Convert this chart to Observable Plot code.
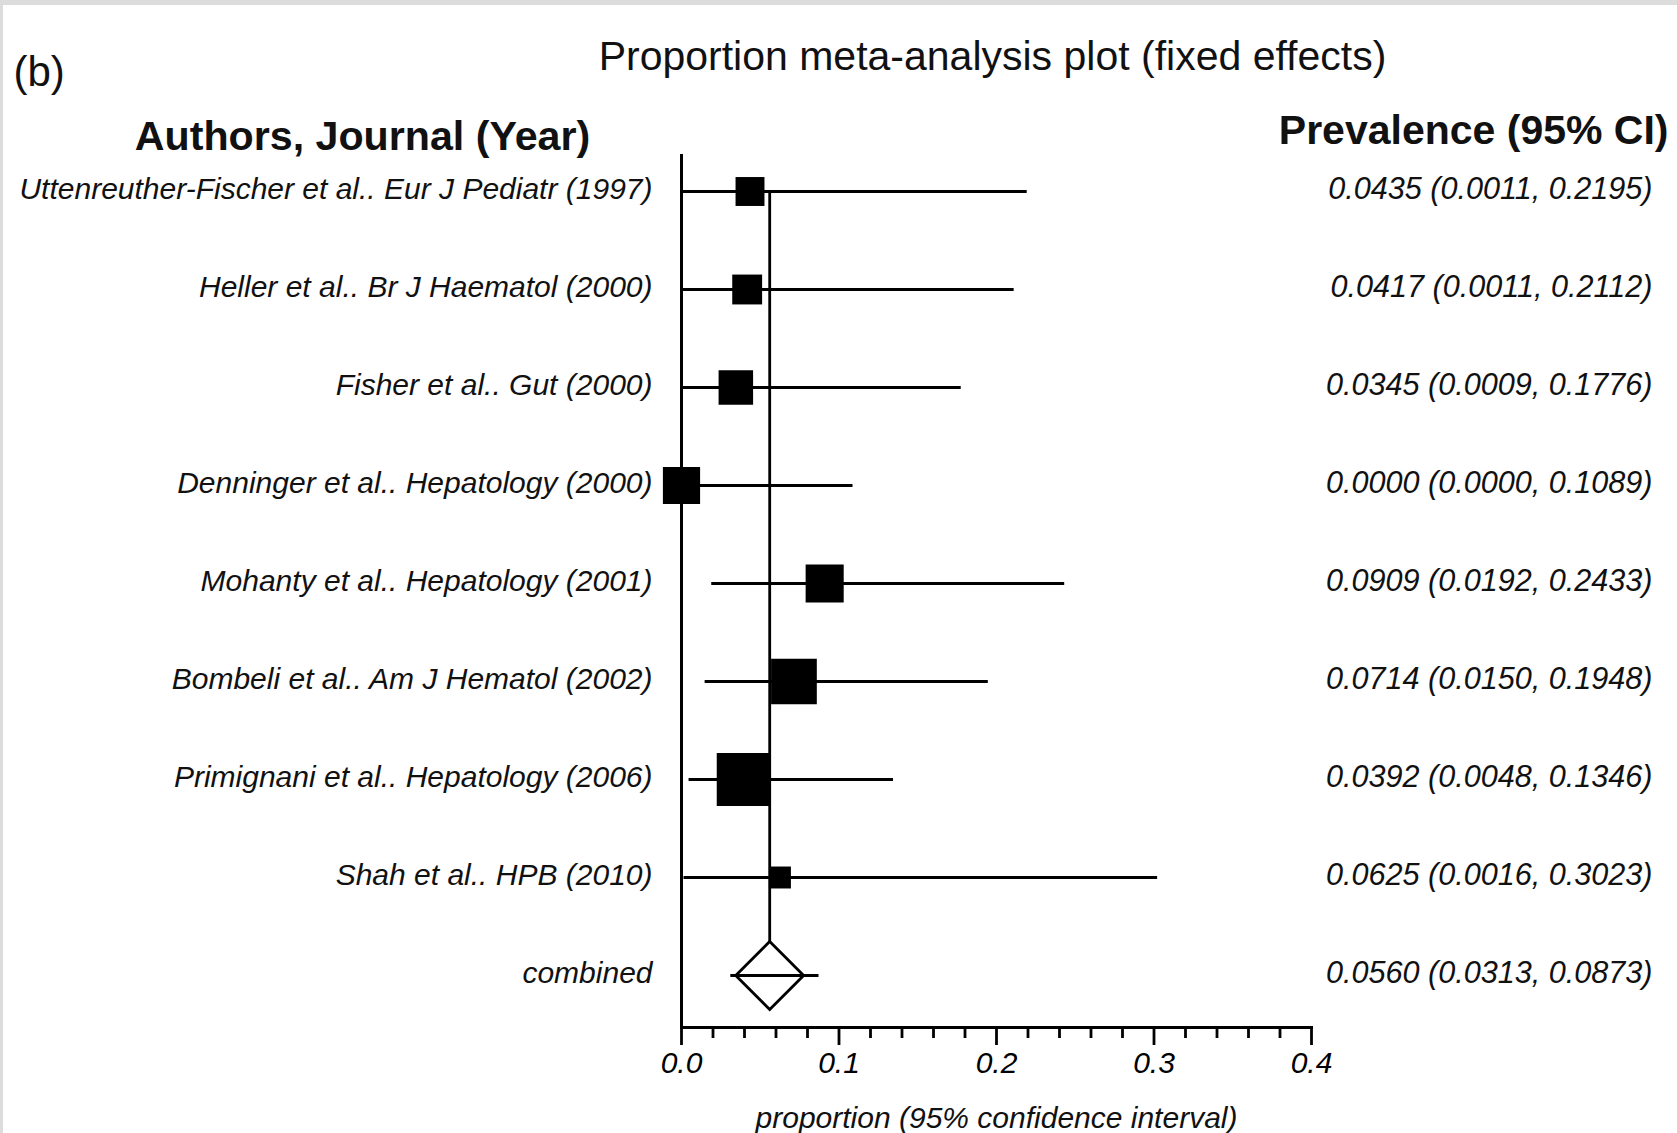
<!DOCTYPE html>
<html>
<head>
<meta charset="utf-8">
<script src="https://cdn.jsdelivr.net/npm/d3@7"></script>
<script src="https://cdn.jsdelivr.net/npm/@observablehq/plot@0.6"></script>
<style>
  html, body { margin: 0; padding: 0; background: #fff; }
  body::before { content: ""; position: fixed; top: 0; left: 0; right: 0; height: 5px; background: #dcdcdc; }
  body::after { content: ""; position: fixed; top: 0; left: 0; bottom: 0; width: 3px; background: #dcdcdc; }
  #chart svg { display: block; }
</style>
</head>
<body>
<div id="chart"></div>
<script>
// ---- data ----
const authors     = ["Uttenreuther-Fischer", "Heller", "Fisher", "Denninger", "Mohanty", "Bombeli", "Primignani", "Shah"];
const journals    = ["Eur J Pediatr", "Br J Haematol", "Gut", "Hepatology", "Hepatology", "Am J Hematol", "Hepatology", "HPB"];
const years       = [1997, 2000, 2000, 2000, 2001, 2002, 2006, 2010];
const prevalence  = [0.0435, 0.0417, 0.0345, 0.0000, 0.0909, 0.0714, 0.0392, 0.0625];
const lowerCI     = [0.0011, 0.0011, 0.0009, 0.0000, 0.0192, 0.0150, 0.0048, 0.0016];
const upperCI     = [0.2195, 0.2112, 0.1776, 0.1089, 0.2433, 0.1948, 0.1346, 0.3023];
const sampleSizes = [23, 24, 29, 32, 33, 42, 51, 16];
const combinedLabel = "combined";
const combinedEstimate = [0.0560];
const combinedLower    = [0.0313];
const combinedUpper    = [0.0873];
const majorTicks = [0, 0.1, 0.2, 0.3, 0.4];
const minorTicks = [0.02, 0.04, 0.06, 0.08, 0.12, 0.14, 0.16, 0.18, 0.22, 0.24, 0.26, 0.28, 0.32, 0.34, 0.36, 0.38];
const titleText = "Proportion meta-analysis plot (fixed effects)";
const panelText = "(b)";
const leftHeader = "Authors, Journal (Year)";
const rightHeader = "Prevalence (95% CI)";
const xTitle = "proportion (95% confidence interval)";

// ---- build tables ----
const studies = authors.map((a, i) => ({
  label: `${a} et al.. ${journals[i]} (${years[i]})`,
  parts: [a, " et al.. ", `${journals[i]} (${years[i]})`],
  p: prevalence[i], lo: lowerCI[i], hi: upperCI[i], n: sampleSizes[i]
}));
const combined = [{label: combinedLabel, first: studies[0].label, p: combinedEstimate[0], lo: combinedLower[0], hi: combinedUpper[0]}];
const rows = studies.concat(combined);
const f4 = d3.format(".4f");
const valueText = d => `${f4(d.p)} (${f4(d.lo)}, ${f4(d.hi)})`;
const partsMap = new Map(studies.map(d => [d.label, d.parts]));

const FONT = "'Liberation Sans', Arial, Helvetica, sans-serif";

const svg = Plot.plot({
  width: 1677,
  height: 1133,
  marginTop: 154,
  marginBottom: 106,
  marginLeft: 681,
  marginRight: 366,
  style: {fontFamily: FONT, background: "transparent", color: "#000"},
  x: {domain: [0, 0.4]},
  y: {type: "point", domain: rows.map(d => d.label), range: [188, 977], padding: 0, axis: null},
  r: {type: "pow", exponent: 0.76, domain: [0, 51], range: [0, 29.9]},
  marks: [
    // reference line at combined estimate, from first study down to the combined row
    Plot.ruleX(combined, {x: "p", y1: "first", y2: "label", stroke: "#000", strokeWidth: 2.8}),
    // combined diamond
    Plot.dot(combined, {x: "p", y: "label", symbol: "diamond2", r: 30.6, fill: "#fff", stroke: "#000", strokeWidth: 2.8}),
    // confidence intervals
    Plot.ruleY(rows, {y: "label", x1: "lo", x2: "hi", stroke: "#000", strokeWidth: 2.8}),
    // study boxes
    Plot.dot(studies, {x: "p", y: "label", r: "n", symbol: "square", fill: "#000"}),
    // axes
    Plot.ruleX([0], {stroke: "#000", strokeWidth: 3}),
    Plot.frame({anchor: "bottom", stroke: "#000", strokeWidth: 3}),
    Plot.axisX({ticks: majorTicks, tickSize: 18, tickPadding: 6, tickFormat: d3.format(".1f"),
      fontSize: 30, fontStyle: "italic", strokeWidth: 2.8, label: null, ariaLabel: "x-axis major"}),
    Plot.axisX({ticks: minorTicks, tickSize: 11, tickFormat: () => "", strokeWidth: 2.8, label: null, ariaLabel: "x-axis minor"}),
    Plot.text([xTitle], {frameAnchor: "bottom", dy: 91, fontSize: 30, fontStyle: "italic", lineAnchor: "middle", fill: "#111"}),
    // study labels
    Plot.text(rows, {y: "label", text: "label", frameAnchor: "left", dx: -29, dy: -2, textAnchor: "end",
      fontSize: 30, fontStyle: "italic", fill: "#111", ariaLabel: "study labels"}),
    // value labels
    Plot.text(rows, {y: "label", text: valueText, frameAnchor: "right", dx: 341, dy: -2, textAnchor: "end",
      fontSize: 30.6, fontStyle: "italic", fill: "#111"}),
    // headers and title
    Plot.text([titleText], {frameAnchor: "top", dx: -4, dy: -98, fontSize: 41, lineAnchor: "middle", fill: "#111"}),
    Plot.text([panelText], {frameAnchor: "top-left", dx: -668, dy: -82, textAnchor: "start", fontSize: 42, lineAnchor: "middle", fill: "#111"}),
    Plot.text([leftHeader], {frameAnchor: "top-left", dx: -319, dy: -18, textAnchor: "middle", fontSize: 41.2, fontWeight: "bold", lineAnchor: "middle", fill: "#111"}),
    Plot.text([rightHeader], {frameAnchor: "top-right", dx: 357, dy: -24, textAnchor: "end", fontSize: 41, fontWeight: "bold", lineAnchor: "middle", fill: "#111"})
  ]
});

// mixed styles in study labels: author and journal italic, "et al.." upright
d3.select(svg).selectAll('g[aria-label="study labels"] text').each(function() {
  const parts = partsMap.get(this.textContent);
  if (!parts) return;
  this.textContent = "";
  const sel = d3.select(this);
  sel.append("tspan").attr("font-style", "italic").text(parts[0]);
  sel.append("tspan").attr("font-style", "normal").attr("xml:space", "preserve").text(parts[1]);
  sel.append("tspan").attr("font-style", "italic").text(parts[2]);
});

document.getElementById("chart").appendChild(svg);
</script>
</body>
</html>
